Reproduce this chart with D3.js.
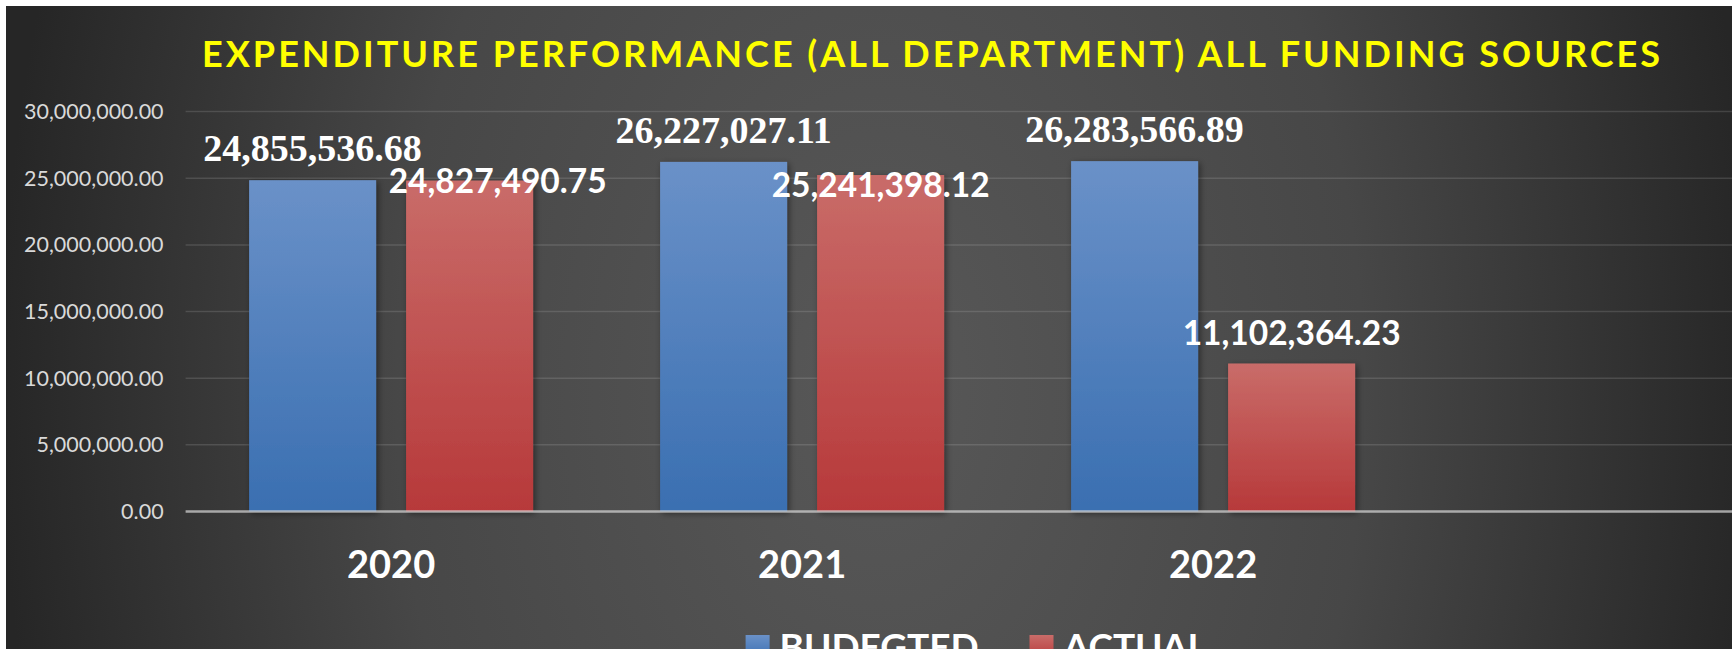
<!DOCTYPE html>
<html>
<head>
<meta charset="utf-8">
<script src="https://cdn.jsdelivr.net/npm/d3@7"></script>
<style>
  body { margin: 0; background: #ffffff; }
  svg { display: block; }
</style>
</head>
<body>
<svg id="chart"></svg>
<script>
// chart values
const years = ["2020", "2021", "2022"]
const seriesNames = ["BUDEGTED", "ACTUAL"]
const budgeted = [24855536.68, 26227027.11, 26283566.89]
const actual = [24827490.75, 25241398.12, 11102364.23]
const yTicks = [0, 5000000, 10000000, 15000000, 20000000, 25000000, 30000000]
const titleText = "EXPENDITURE PERFORMANCE (ALL DEPARTMENT) ALL FUNDING SOURCES"

// svg frame
let svgSize = {width: 1732, height: 649}
let plot = {left: 185.6, right: 1732, top: 111.6, bottom: 511.5, step: 411}

let svg = d3.select('#chart')
  .attr('width', svgSize.width)
  .attr('height', svgSize.height)

let defs = svg.append('defs')

// dark background, lighter in the middle
let bg = defs.append('radialGradient')
  .attr('id', 'bgGrad')
  .attr('gradientUnits', 'userSpaceOnUse')
  .attr('cx', 0).attr('cy', 0).attr('r', 880)
  .attr('gradientTransform', 'translate(880,390) scale(1,1.5)')
bg.append('stop').attr('offset', 0).attr('stop-color', '#585858')
bg.append('stop').attr('offset', 0.55).attr('stop-color', '#474747')
bg.append('stop').attr('offset', 1).attr('stop-color', '#262626')

// bar gradients (top light -> bottom dark)
const barColors = {
  BUDEGTED: ['#6a91c8', '#3a6fb1'],
  ACTUAL: ['#c96c69', '#b7393a']
}
seriesNames.forEach(function(s){
  let g = defs.append('linearGradient')
    .attr('id', 'grad' + s)
    .attr('x1', 0).attr('y1', 0).attr('x2', 0).attr('y2', 1)
  g.append('stop').attr('offset', 0).attr('stop-color', barColors[s][0])
  g.append('stop').attr('offset', 1).attr('stop-color', barColors[s][1])
})

let shadow = defs.append('filter').attr('id', 'barShadow')
  .attr('x', '-20%').attr('y', '-20%').attr('width', '140%').attr('height', '140%')
shadow.append('feDropShadow')
  .attr('dx', 2).attr('dy', 2).attr('stdDeviation', 3)
  .attr('flood-color', '#000').attr('flood-opacity', 0.45)

svg.append('rect')
  .attr('x', 6).attr('y', 6)
  .attr('width', svgSize.width - 6).attr('height', svgSize.height - 6)
  .attr('fill', 'url(#bgGrad)')

// scales
let x = d3.scaleBand()
  .domain(years)
  .range([plot.left, plot.left + years.length * plot.step])

let xInner = d3.scaleBand()
  .domain(seriesNames)
  .range([0, plot.step])
  .paddingInner(0.191)
  .paddingOuter(0.4045)

let y = d3.scaleLinear()
  .domain([0, 30000000])
  .range([plot.bottom, plot.top])

// gridlines
svg.append('g')
  .selectAll('line')
  .data(yTicks.filter(d => d > 0))
  .enter()
  .append('line')
  .attr('x1', plot.left).attr('x2', plot.right)
  .attr('y1', d => y(d)).attr('y2', d => y(d))
  .attr('stroke', '#d9d9d9')
  .attr('stroke-opacity', 0.16)
  .attr('stroke-width', 1.5)

// y axis labels
let yAxis = d3.axisLeft(y)
  .tickValues(yTicks)
  .tickFormat(d3.format(',.2f'))
  .tickSize(0)
  .tickPadding(22)

let yG = svg.append('g')
  .attr('transform', 'translate(' + plot.left + ',0)')
  .call(yAxis)
yG.select('.domain').remove()
yG.selectAll('text')
  .attr('fill', '#d9d9d9')
  .attr('font-family', 'Lato, sans-serif')
  .attr('font-size', 21.5)

// table of rows for bars
let rows = []
years.forEach(function(yr, i){
  rows.push({year: yr, series: 'BUDEGTED', value: budgeted[i]})
  rows.push({year: yr, series: 'ACTUAL', value: actual[i]})
})

// bars
svg.append('g')
  .selectAll('rect')
  .data(rows)
  .enter()
  .append('rect')
  .attr('x', d => x(d.year) + xInner(d.series))
  .attr('width', xInner.bandwidth())
  .attr('y', d => y(d.value))
  .attr('height', d => y(0) - y(d.value))
  .attr('fill', d => 'url(#grad' + d.series + ')')
  .attr('filter', 'url(#barShadow)')

// axis line over the bars
svg.append('line')
  .attr('x1', plot.left).attr('x2', plot.right)
  .attr('y1', y(0)).attr('y2', y(0))
  .attr('stroke', '#d9d9d9')
  .attr('stroke-opacity', 0.7)
  .attr('stroke-width', 2.5)

// x axis labels
let xAxis = d3.axisBottom(x).tickSize(0).tickPadding(40)
let xG = svg.append('g')
  .attr('transform', 'translate(0,' + y(0) + ')')
  .call(xAxis)
xG.select('.domain').remove()
xG.selectAll('text')
  .attr('fill', '#ffffff')
  .attr('font-family', 'Lato, sans-serif')
  .attr('font-weight', 'bold')
  .attr('font-size', 38)

// data labels; the Excel labels were dragged by hand for two of the actual bars
let nudge = {
  'ACTUAL2020': {dx: 28, dy: 31},
  'ACTUAL2021': {dx: 0, dy: 41}
}
svg.append('g')
  .selectAll('text')
  .data(rows)
  .enter()
  .append('text')
  .attr('x', function(d){
    let n = nudge[d.series + d.year]
    return x(d.year) + xInner(d.series) + xInner.bandwidth() / 2 + (n ? n.dx : 0)
  })
  .attr('y', function(d){
    let n = nudge[d.series + d.year]
    return y(d.value) - 19 + (n ? n.dy : 0)
  })
  .attr('text-anchor', 'middle')
  .attr('fill', '#ffffff')
  .attr('font-weight', 'bold')
  .attr('font-family', d => d.series == 'BUDEGTED' ? '"Liberation Serif", "Times New Roman", serif' : 'Lato, sans-serif')
  .attr('font-size', d => d.series == 'BUDEGTED' ? 38 : 33.5)
  .text(d => d3.format(',.2f')(d.value))

// title
svg.append('text')
  .attr('x', 202)
  .attr('y', 67)
  .attr('textLength', 1458)
  .attr('lengthAdjust', 'spacing')
  .attr('fill', '#ffff00')
  .attr('font-family', 'Lato, sans-serif')
  .attr('font-weight', 'bold')
  .attr('font-size', 36)
  .text(titleText)

// legend (cut by the bottom edge as in the picture)
let legend = svg.append('g')
let legendX = [745.6, 1029.5]
seriesNames.forEach(function(s, i){
  legend.append('rect')
    .attr('x', legendX[i]).attr('y', 635)
    .attr('width', 24).attr('height', 24)
    .attr('fill', 'url(#grad' + s + ')')
  legend.append('text')
    .attr('x', legendX[i] + 34)
    .attr('y', 660)
    .attr('fill', '#ffffff')
    .attr('font-family', 'Lato, sans-serif')
    .attr('font-weight', 'bold')
    .attr('font-size', 37)
    .text(s)
})
</script>
</body>
</html>
